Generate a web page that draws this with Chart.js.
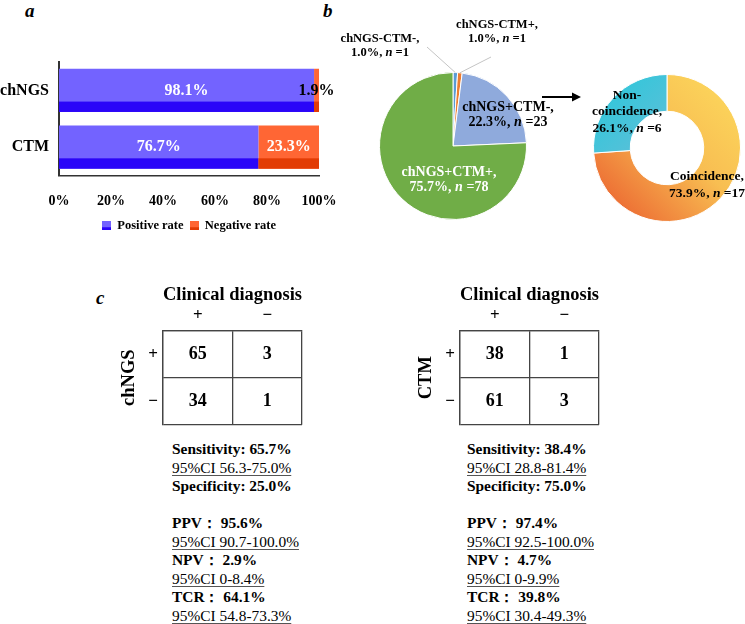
<!DOCTYPE html>
<html>
<head>
<meta charset="utf-8">
<script src="https://cdn.jsdelivr.net/npm/chart.js@4.4.0/dist/chart.umd.min.js"></script>
<style>
  body { margin: 0; background: #fff; }
  #fig { position: relative; width: 745px; height: 624px; overflow: hidden; font-family: "Liberation Serif", serif; color: #000; }
  #fig canvas { position: absolute; }
  .tag { position: absolute; font-size: 19px; font-weight: bold; font-style: italic; line-height: 1; }
  .stats { position: absolute; font-size: 15.4px; line-height: 18.55px; white-space: nowrap; }
  .stats .b { font-weight: bold; }
  .stats .ci { text-decoration: underline; text-decoration-color: #555; text-underline-offset: 2px; }
  #arrow { position: absolute; left: 540px; top: 90px; }
</style>
</head>
<body>
<div id="fig">
  <div class="tag" style="left:25px;top:1px">a</div>
  <div class="tag" style="left:323px;top:1px">b</div>
  <div class="tag" style="left:96px;top:288px">c</div>

  <canvas id="barChart" width="340" height="210" style="left:0;top:36px"></canvas>
  <canvas id="pieChart" width="240" height="240" style="left:340px;top:0"></canvas>
  <canvas id="donutChart" width="165" height="240" style="left:580px;top:0"></canvas>
  <svg id="arrow" width="45" height="14">
    <line x1="2" y1="7" x2="33" y2="7" stroke="#000" stroke-width="2"/>
    <polygon points="32,2.5 41,7 32,11.5" fill="#000"/>
  </svg>

  <canvas id="ngsMatrix" width="200" height="160" style="left:110px;top:280px"></canvas>
  <canvas id="ctmMatrix" width="200" height="160" style="left:407px;top:280px"></canvas>
  <div class="stats" id="ngsStats" style="left:172px;top:440px"></div>
  <div class="stats" id="ctmStats" style="left:467px;top:440px"></div>
</div>

<script>
const FONT = '"Liberation Serif", serif';

// panel a
const barCategories = ['chNGS', 'CTM'];
const positiveRate = [98.1, 76.7];
const negativeRate = [1.9, 23.3];

// panel b
const pieNames = ['chNGS-CTM-', 'chNGS-CTM+', 'chNGS+CTM-', 'chNGS+CTM+'];
const piePercent = [1.0, 1.0, 22.3, 75.7];
const pieCounts = [1, 1, 23, 78];
const donutNames = ['Coincidence', 'Non-coincidence'];
const donutPercent = [73.9, 26.1];
const donutCounts = [17, 6];

// panel c
const diagLabels = ['+', '\u2212'];
const ngsMatrix = [[65, 3], [34, 1]];
const ctmMatrix = [[38, 1], [61, 3]];
const ngsStats = [
  ['Sensitivity: 65.7%', '95%CI 56.3-75.0%'],
  ['Specificity: 25.0%', null],
  ['PPV\uFF1A 95.6%', '95%CI 90.7-100.0%'],
  ['NPV\uFF1A 2.9%', '95%CI 0-8.4%'],
  ['TCR\uFF1A 64.1%', '95%CI 54.8-73.3%']
];
const ctmStats = [
  ['Sensitivity: 38.4%', '95%CI 28.8-81.4%'],
  ['Specificity: 75.0%', null],
  ['PPV\uFF1A 97.4%', '95%CI 92.5-100.0%'],
  ['NPV\uFF1A 4.7%', '95%CI 0-9.9%'],
  ['TCR\uFF1A 39.8%', '95%CI 30.4-49.3%']
];

function swatch(light, dark) {
  const c = document.createElement('canvas');
  c.width = 9; c.height = 9;
  const g = c.getContext('2d');
  g.fillStyle = light; g.fillRect(0, 0, 9, 9);
  g.fillStyle = dark; g.fillRect(0, 6, 9, 3);
  return c;
}

// text with *italic* runs, centred on x
function drawRich(ctx, line, x, y, size, color) {
  const parts = line.split('*');
  const fonts = parts.map((p, i) => (i % 2 ? 'italic bold ' : 'bold ') + size + 'px ' + FONT);
  let total = 0;
  const widths = parts.map((p, i) => { ctx.font = fonts[i]; const w = ctx.measureText(p).width; total += w; return w; });
  let cx = x - total / 2;
  ctx.fillStyle = color;
  ctx.textAlign = 'left';
  ctx.textBaseline = 'middle';
  parts.forEach((p, i) => { ctx.font = fonts[i]; ctx.fillText(p, cx, y); cx += widths[i]; });
}

// dark strip at the bottom of each bar + value labels
const barDecor = {
  id: 'barDecor',
  afterDatasetsDraw(chart) {
    const ctx = chart.ctx;
    ctx.save();
    chart.data.datasets.forEach((ds, di) => {
      chart.getDatasetMeta(di).data.forEach(bar => {
        const { x, y, base, height } = bar.getProps(['x', 'y', 'base', 'height'], true);
        ctx.fillStyle = ds.stripColor;
        ctx.fillRect(Math.min(x, base), y + height / 2 - height * 0.24, Math.abs(x - base), height * 0.24);
      });
    });
    chart.data.datasets.forEach((ds, di) => {
      chart.getDatasetMeta(di).data.forEach((bar, i) => {
        const { x, y, base } = bar.getProps(['x', 'y', 'base'], true);
        const w = Math.abs(x - base);
        drawRich(ctx, ds.data[i].toFixed(1) + '%', (x + base) / 2, y, 16, w < 30 ? '#000' : '#fff');
      });
    });
    ctx.restore();
  }
};

const swatches = [swatch('#7363FF', '#2A05F8'), swatch('#FF6634', '#E23C05')];

new Chart(document.getElementById('barChart'), {
  type: 'bar',
  data: {
    labels: barCategories,
    datasets: [
      { label: 'Positive rate', data: positiveRate, backgroundColor: '#7363FF', stripColor: '#2A05F8' },
      { label: 'Negative rate', data: negativeRate, backgroundColor: '#FF6634', stripColor: '#E23C05' }
    ]
  },
  options: {
    indexAxis: 'y',
    responsive: false,
    animation: false,
    layout: { padding: { top: 26, right: 21, bottom: 4, left: 0 } },
    datasets: { bar: { categoryPercentage: 1, barPercentage: 0.76 } },
    scales: {
      x: {
        stacked: true, min: 0, max: 100,
        grid: { display: false, drawTicks: false },
        border: { display: true, color: '#333', width: 1.5 },
        ticks: { stepSize: 20, padding: 17, color: '#000', font: { family: FONT, size: 14, weight: 'bold' }, callback: v => v + '%' },
        afterFit: s => { s.height = 38; s.paddingLeft = 0; s.paddingRight = 0; }
      },
      y: {
        stacked: true,
        grid: { display: false, drawTicks: false },
        border: { color: '#333', width: 2 },
        ticks: { padding: 10, color: '#000', font: { family: FONT, size: 16, weight: 'bold' } },
        afterFit: s => { s.width = 59; }
      }
    },
    plugins: {
      tooltip: { enabled: false },
      legend: {
        position: 'bottom',
        fullSize: false,
        labels: {
          usePointStyle: true, boxWidth: 9, boxHeight: 9, padding: 6,
          color: '#000', font: { family: FONT, size: 12.5, weight: 'bold' },
          generateLabels: chart => Chart.defaults.plugins.legend.labels.generateLabels(chart)
            .map((item, i) => Object.assign(item, { pointStyle: swatches[i] }))
        }
      }
    }
  },
  plugins: [barDecor]
});

// slice labels for pie / doughnut
const sliceLabels = {
  id: 'sliceLabels',
  afterDatasetsDraw(chart, args, opts) {
    const ctx = chart.ctx;
    const ds = chart.data.datasets[0];
    ctx.save();
    chart.getDatasetMeta(0).data.forEach((arc, i) => {
      const it = opts.items[i];
      const name = chart.data.labels[i];
      const cut = name.indexOf('-') + 1;
      const head = it.split ? [name.slice(0, cut), name.slice(cut) + ','] : [name + ','];
      const lines = head.concat([ds.data[i].toFixed(1) + '%, *n* =' + ds.counts[i]]);
      if (it.line) {
        const mid = (arc.startAngle + arc.endAngle) / 2;
        ctx.strokeStyle = '#c4c4c4';
        ctx.lineWidth = 1;
        ctx.beginPath();
        ctx.moveTo(arc.x + Math.cos(mid) * arc.outerRadius, arc.y + Math.sin(mid) * arc.outerRadius);
        ctx.lineTo(arc.x + it.line[0], arc.y + it.line[1]);
        ctx.stroke();
      }
      const top = arc.y + it.dy - (lines.length - 1) * opts.lineHeight / 2;
      lines.forEach((ln, k) => drawRich(ctx, ln, arc.x + it.dx, top + k * opts.lineHeight, it.size || opts.size, it.color));
    });
    ctx.restore();
  }
};

new Chart(document.getElementById('pieChart'), {
  type: 'pie',
  data: {
    labels: pieNames,
    datasets: [{
      data: piePercent, counts: pieCounts,
      backgroundColor: ['#5B9BD5', '#ED7D31', '#8FAADC', '#70AD47'],
      borderColor: '#fff', borderWidth: 1, hoverOffset: 0
    }]
  },
  options: {
    responsive: false,
    animation: false,
    layout: { padding: { left: 39, right: 53, top: 72, bottom: 20 } },
    plugins: {
      legend: { display: false },
      tooltip: { enabled: false },
      sliceLabels: {
        size: 12.5, lineHeight: 14.5,
        items: [
          { dx: -73, dy: -100, color: '#000', line: [-26, -99] },
          { dx: 44, dy: -114, color: '#000', line: [38, -89] },
          { dx: 55, dy: -31, color: '#000', size: 14 },
          { dx: -4, dy: 34, color: '#fff', size: 14 }
        ]
      }
    }
  },
  plugins: [sliceLabels]
});

function coincidenceFill(c) {
  const a = c.chart.chartArea;
  if (!a) return '#F6A84A';
  const g = c.chart.ctx.createLinearGradient(a.right, a.top, a.left, a.bottom);
  g.addColorStop(0, '#FDDC5E');
  g.addColorStop(0.45, '#F8BE52');
  g.addColorStop(1, '#E9552B');
  return g;
}
function nonCoincidenceFill(c) {
  const a = c.chart.chartArea;
  if (!a) return '#3EC5D8';
  const g = c.chart.ctx.createLinearGradient(a.left, a.top, a.left + a.width / 2, a.top + a.height / 2);
  g.addColorStop(0, '#25C9DB');
  g.addColorStop(1, '#62BED8');
  return g;
}

new Chart(document.getElementById('donutChart'), {
  type: 'doughnut',
  data: {
    labels: donutNames,
    datasets: [{
      data: donutPercent, counts: donutCounts,
      backgroundColor: c => (c.dataIndex === 0 ? coincidenceFill(c) : nonCoincidenceFill(c)),
      borderColor: '#fff', borderWidth: 1, hoverOffset: 0
    }]
  },
  options: {
    responsive: false,
    animation: false,
    cutout: '50%',
    layout: { padding: { left: 13, right: 4, top: 74, bottom: 18 } },
    plugins: {
      legend: { display: false },
      tooltip: { enabled: false },
      sliceLabels: {
        size: 13.5, lineHeight: 16.5,
        items: [
          { dx: 40, dy: 37, color: '#000' },
          { dx: -40, dy: -36, color: '#000', split: true }
        ]
      }
    }
  },
  plugins: [sliceLabels]
});

// contingency tables
const cellText = {
  id: 'cellText',
  afterDatasetsDraw(chart) {
    const ctx = chart.ctx;
    const ds = chart.data.datasets[0];
    ctx.save();
    chart.getDatasetMeta(0).data.forEach((pt, i) => drawRich(ctx, String(ds.data[i].v), pt.x, pt.y, 18, '#000'));
    ctx.restore();
  }
};

function matrixChart(id, rowName, matrix) {
  const cells = [];
  matrix.forEach((row, r) => row.forEach((v, c) => cells.push({ x: diagLabels[c], y: diagLabels[r], v })));
  const tickFont = { family: FONT, size: 17, weight: 'bold' };
  const line = { color: '#444', lineWidth: 1.3, drawTicks: false, offset: true };
  return new Chart(document.getElementById(id), {
    type: 'scatter',
    data: { datasets: [{ data: cells, pointRadius: 0 }] },
    options: {
      responsive: false,
      animation: false,
      layout: { padding: { top: 0, left: 0, right: 8, bottom: 4 } },
      scales: {
        x: {
          type: 'category', labels: diagLabels, position: 'top', offset: true,
          grid: line, border: { color: '#444', width: 1.3 },
          ticks: { padding: 5, color: '#000', font: tickFont },
          afterFit: s => { s.height = 24.4; }
        },
        y: {
          type: 'category', labels: diagLabels, offset: true,
          grid: line, border: { color: '#444', width: 1.3 },
          ticks: { padding: 5, color: '#000', font: tickFont },
          title: { display: true, text: rowName, color: '#000', font: { family: FONT, size: 18.5, weight: 'bold' }, padding: { top: 8, bottom: 0 } },
          afterFit: s => { s.width = 53; }
        }
      },
      plugins: {
        legend: { display: false },
        tooltip: { enabled: false },
        title: {
          display: true, text: 'Clinical diagnosis', fullSize: false, color: '#000',
          font: { family: FONT, size: 18.5, weight: 'bold' }, padding: { top: 4, bottom: 0 }
        }
      }
    },
    plugins: [cellText]
  });
}

matrixChart('ngsMatrix', 'chNGS', ngsMatrix);
matrixChart('ctmMatrix', 'CTM', ctmMatrix);

function renderStats(id, rows) {
  const el = document.getElementById(id);
  rows.forEach((r, i) => {
    el.insertAdjacentHTML('beforeend', `<div><span class="b">${r[0]}</span></div>`);
    if (r[1]) el.insertAdjacentHTML('beforeend', `<div><span class="ci">${r[1]}</span></div>`);
    if (i === 1) el.insertAdjacentHTML('beforeend', '<div>&nbsp;</div>');
  });
}
renderStats('ngsStats', ngsStats);
renderStats('ctmStats', ctmStats);
</script>
</body>
</html>
